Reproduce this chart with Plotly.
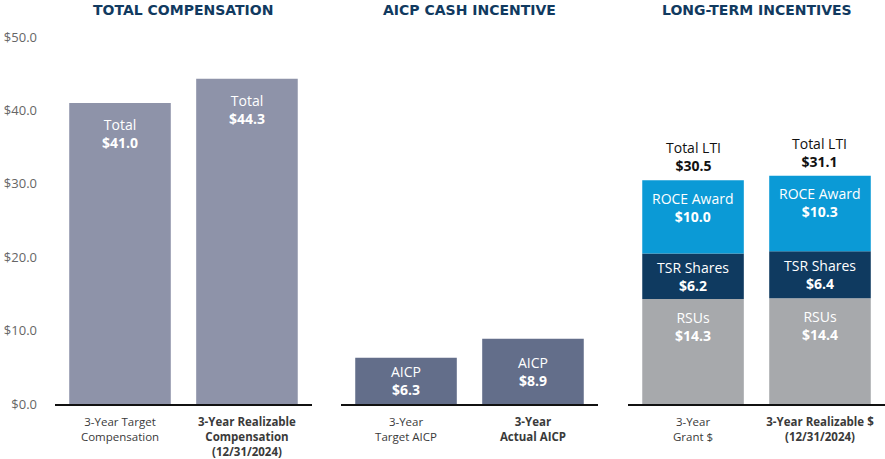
import plotly.graph_objects as go

# ---- data ----
panel_titles = ["TOTAL COMPENSATION", "AICP CASH INCENTIVE", "LONG-TERM INCENTIVES"]

tc_categories = ["3-Year Target<br>Compensation", "<b>3-Year Realizable<br>Compensation<br>(12/31/2024)</b>"]
tc_values = [41.0, 44.3]
tc_label = "Total"

aicp_categories = ["3-Year<br>Target AICP", "<b>3-Year<br>Actual AICP</b>"]
aicp_values = [6.3, 8.9]
aicp_label = "AICP"

lti_categories = ["3-Year<br>Grant $", "<b>3-Year Realizable $<br>(12/31/2024)</b>"]
lti_series_names = ["RSUs", "TSR Shares", "ROCE Award"]
lti_rsu = [14.3, 14.4]
lti_tsr = [6.2, 6.4]
lti_roce = [10.0, 10.3]
lti_totals = [30.5, 31.1]
lti_total_label = "Total LTI"

y_ticks = [0, 10, 20, 30, 40, 50]

# ---- style ----
FONT = "Open Sans"
TITLE_FONT = "DejaVu Sans"
c_tc = "#8e93a9"
c_aicp = "#636e8a"
c_rsu = "#a7a9ac"
c_tsr = "#0f3a60"
c_roce = "#0b9ad6"
title_color = "#113a60"
BW = 0.8
xr = [-0.512, 1.512]

fig = go.Figure()
xs = [0, 1]

def add_inside_labels(xref, bases, vals, name, mode, shift=-10):
    for x, b, v in zip(xs, bases, vals):
        if mode == "top":
            y, ya, ys = b + v, "top", shift
        else:
            y, ya, ys = b + v / 2, "middle", 0
        fig.add_annotation(
            x=x, y=y, xref=xref, yref="y",
            text=f"{name}<br><b>${v:.1f}</b>",
            showarrow=False, yanchor=ya, yshift=ys,
            font=dict(family=FONT, size=14, color="white"),
        )

# panel 1
fig.add_trace(go.Bar(x=xs, y=tc_values, width=BW, marker_color=c_tc, marker_line_width=0,
                     xaxis="x", yaxis="y", hoverinfo="skip"))
add_inside_labels("x", [0, 0], tc_values, tc_label, "top", -10)

# panel 2
fig.add_trace(go.Bar(x=xs, y=aicp_values, width=BW, marker_color=c_aicp, marker_line_width=0,
                     xaxis="x2", yaxis="y", hoverinfo="skip"))
add_inside_labels("x2", [0, 0], aicp_values, aicp_label, "middle")

# panel 3 stacked
modes = ["top", "middle", "top"]
base = [0, 0]
for name, vals, col, md in zip(lti_series_names, [lti_rsu, lti_tsr, lti_roce],
                               [c_rsu, c_tsr, c_roce], modes):
    fig.add_trace(go.Bar(x=xs, y=vals, base=base, width=BW, marker_color=col, marker_line_width=0,
                         xaxis="x3", yaxis="y", hoverinfo="skip"))
    add_inside_labels("x3", base, vals, name, md, -6.5)
    base = [b + v for b, v in zip(base, vals)]

for x, t in zip(xs, lti_totals):
    fig.add_annotation(x=x, y=t, xref="x3", yref="y",
                       text=f"{lti_total_label}<br><b>${t:.1f}</b>",
                       showarrow=False, yanchor="bottom", yshift=3,
                       font=dict(family=FONT, size=14, color="#111111"))

domains = [[0, 0.3096], [0.3446, 0.6542], [0.6904, 1.0]]
cats = [tc_categories, aicp_categories, lti_categories]
axis_names = ["xaxis", "xaxis2", "xaxis3"]
for i, (an, dom, ct) in enumerate(zip(axis_names, domains, cats)):
    fig.layout[an] = dict(
        domain=dom, range=xr, anchor="y", tickvals=xs, ticktext=ct,
        showline=True, linecolor="#111111", linewidth=2, showgrid=False, zeroline=False,
        ticks="", ticklabelstandoff=6,
        tickfont=dict(family=FONT, size=11.5, color="#3a3a3a"), fixedrange=True,
    )
    fig.add_annotation(x=(dom[0] + dom[1]) / 2, y=1, xref="paper", yref="paper",
                       xanchor="center", text=f"<b>{panel_titles[i]}</b>", showarrow=False,
                       yanchor="bottom", yshift=17,
                       font=dict(family=TITLE_FONT, size=14, color=title_color))

fig.update_layout(
    width=885, height=459,
    margin=dict(l=55, r=0, t=37, b=55),
    paper_bgcolor="white", plot_bgcolor="white",
    showlegend=False, barmode="overlay",
    yaxis=dict(range=[0, 50], tickvals=y_ticks, tickformat="$.1f", showgrid=False,
               zeroline=False, showline=False, ticklabelstandoff=17,
               tickfont=dict(family=FONT, size=13, color="#666666"), fixedrange=True),
)

fig.write_html("out.html", config={"displayModeBar": False},
               post_script="document.body.style.margin='0';")
